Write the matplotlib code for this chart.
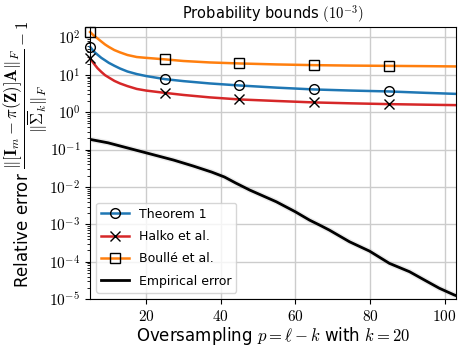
import numpy as np
import matplotlib
matplotlib.use("Agg")
import matplotlib.pyplot as plt
from matplotlib.ticker import FuncFormatter, LogLocator, NullFormatter

plt.rcParams['mathtext.fontset'] = 'cm'
plt.rcParams['font.family'] = ['DejaVu Sans']

# oversampling values where the bounds were read
p_bound = [5, 6, 7, 8, 9, 10, 11.5, 13, 15, 17.5, 20, 25, 30, 37, 45, 55,
           65, 75, 85, 95, 103]
theorem1 = [56, 42, 34.5, 28.5, 24.5, 21, 17.5, 14.8, 12.3, 10.5, 9.3, 7.7,
            6.8, 5.9, 5.2, 4.55, 4.07, 3.8, 3.6, 3.3, 3.1]
halko = [27.5, 20, 15, 12, 9.8, 8.5, 6.9, 5.9, 5.0, 4.2, 3.8, 3.3, 2.9, 2.5,
         2.2, 2.0, 1.83, 1.73, 1.65, 1.59, 1.55]
boulle = [140, 112, 94, 78, 65, 56, 46, 40, 34, 30, 28.5, 26, 23.5, 21.5,
          20.2, 19, 18.2, 17.7, 17.4, 17.1, 16.8]
p_marks = [5, 25, 45, 65, 85]

# empirical error
p_emp = [5, 9.8, 20, 27.4, 32.7, 37.6, 41, 44, 47.8, 54.9, 60, 63.8, 66.5,
         69.1, 74.5, 79.9, 85.2, 90.6, 94.6, 98.6, 102.6, 103]
emp = [0.1875, 0.152, 0.082, 0.0524, 0.0362, 0.025, 0.0185, 0.0128, 0.00826,
       0.00402, 0.00217, 0.0013, 0.000957, 0.000704, 0.000343, 0.000192,
       9.06e-5, 5.41e-5, 3.24e-5, 1.95e-5, 1.29e-5, 1.25e-5]

marks = [i for i, v in enumerate(p_bound) if v in p_marks]

fig = plt.figure(figsize=(4.67, 3.47), dpi=100)
ax = fig.add_axes([0.193, 0.138, 0.783, 0.784])

kw = dict(lw=1.8, ms=7, mec='k', mew=1.0, markevery=marks, clip_on=False)
ax.plot(p_bound, theorem1, color='#1f77b4', marker='o', mfc='none',
        label='Theorem 1', **kw)
ax.plot(p_bound, halko, color='#d62728', marker='x', label='Halko et al.', **kw)
ax.plot(p_bound, boulle, color='#ff7f0e', marker='s', mfc='none',
        label='Boullé et al.', **kw)
ax.plot(p_emp, emp, color='gray', lw=4, alpha=0.15)
ax.plot(p_emp, emp, color='k', lw=2, label='Empirical error')

ax.set_yscale('log')
ax.set_xlim(5, 103)
ax.set_ylim(1e-5, 190)
ax.set_xticks([20, 40, 60, 80, 100])
ax.xaxis.set_major_formatter(FuncFormatter(lambda v, pos: r'$%d$' % v))
ax.yaxis.set_major_locator(LogLocator(base=10, numticks=20))
ax.yaxis.set_minor_locator(LogLocator(base=10, subs=np.arange(2, 10), numticks=20))
ax.yaxis.set_minor_formatter(NullFormatter())
ax.yaxis.set_major_formatter(FuncFormatter(lambda v, pos: r'$10^{%d}$' % round(np.log10(v))))
ax.tick_params(labelsize=11)
ax.grid(True, which='major', color='#cccccc', lw=1)
ax.set_axisbelow(True)

ax.set_title(r'Probability bounds $(10^{-3})$', fontsize=10.5)
ax.set_xlabel(r'Oversampling $p = \ell - k$ with $k = 20$', fontsize=12, labelpad=1)
ax.set_ylabel(r'Relative error $\dfrac{\|[\mathbf{I}_m - \pi(\mathbf{Z})]\mathbf{A}\|_F}'
              r'{\|\overline{\mathbf{\Sigma}}_k\|_F} - 1$', fontsize=12, labelpad=0)
ax.yaxis.set_label_coords(-0.11, 0.53)
ax.legend(loc='lower left', fontsize=9, handlelength=2.2, labelspacing=0.75)

fig.savefig('out.png', dpi=100)
